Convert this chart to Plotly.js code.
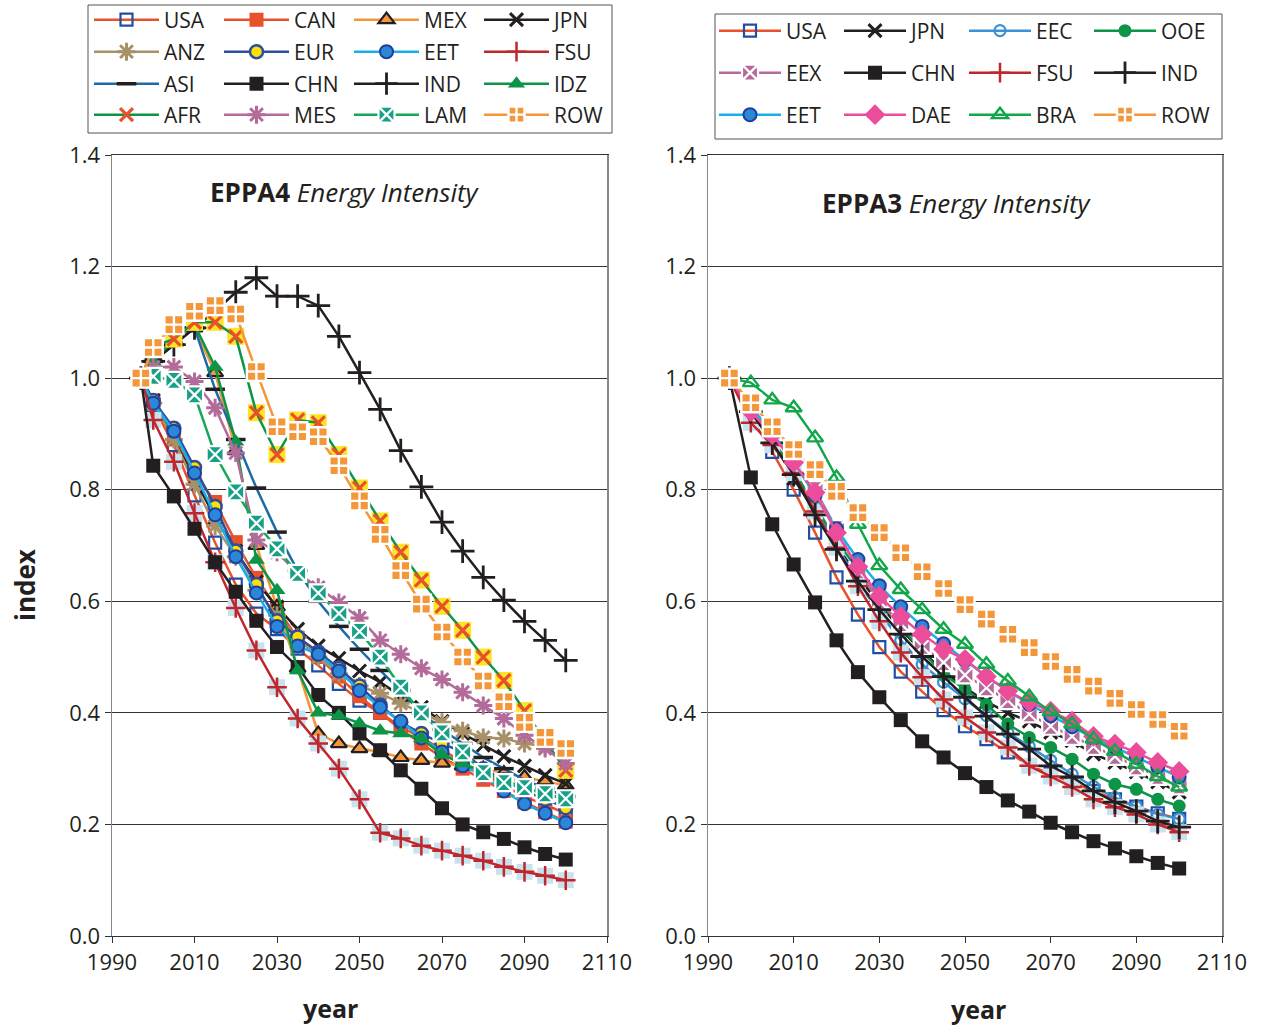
<!DOCTYPE html>
<html><head><meta charset="utf-8">
<script src="https://cdn.plot.ly/plotly-3.0.1.min.js"></script>
<style>html,body{margin:0;padding:0;background:#fff}#chart{width:1261px;height:1029px}</style>
</head><body><div id="chart"></div>
<script>
// ---------- DATA ----------
const years4 = [1997,2000,2005,2010,2015,2020,2025,2030,2035,2040,2045,2050,2055,2060,2065,2070,2075,2080,2085,2090,2095,2100];
const years3 = [1995,2000,2005,2010,2015,2020,2025,2030,2035,2040,2045,2050,2055,2060,2065,2070,2075,2080,2085,2090,2095,2100];
const xTicks = [1990,2010,2030,2050,2070,2090,2110];
const yTicks = [0.0,0.2,0.4,0.6,0.8,1.0,1.2,1.4];

// EPPA4 (left panel)
const e4_USA = [1.0,0.95,0.88,0.79,0.705,0.63,0.578,0.55,0.515,0.485,0.452,0.422,0.40,0.375,0.355,0.335,0.31,0.29,0.27,0.25,0.235,0.22];
const e4_CAN = [1.0,0.96,0.89,0.83,0.778,0.706,0.642,0.588,0.534,0.50,0.465,0.43,0.40,0.37,0.345,0.32,0.30,0.28,0.26,0.24,0.222,0.205];
const e4_MEX = [1.0,1.04,1.07,1.09,1.01,0.87,0.70,0.59,0.48,0.363,0.345,0.336,0.33,0.32,0.315,0.31,0.305,0.30,0.292,0.285,0.278,0.27];
const e4_JPN = [1.0,0.96,0.89,0.82,0.75,0.69,0.635,0.59,0.55,0.52,0.498,0.475,0.455,0.43,0.41,0.385,0.363,0.342,0.322,0.305,0.288,0.273];
const e4_ANZ = [1.0,0.955,0.89,0.81,0.735,0.68,0.62,0.575,0.535,0.50,0.47,0.448,0.435,0.417,0.40,0.383,0.368,0.356,0.354,0.345,0.34,0.335];
const e4_EUR = [1.0,0.96,0.91,0.84,0.77,0.69,0.63,0.565,0.536,0.509,0.48,0.448,0.414,0.383,0.363,0.345,0.33,0.30,0.28,0.26,0.245,0.23];
const e4_EET = [1.0,0.955,0.905,0.83,0.755,0.68,0.615,0.555,0.52,0.505,0.475,0.44,0.41,0.385,0.355,0.33,0.305,0.288,0.26,0.237,0.22,0.203];
const e4_FSU = [1.0,0.925,0.85,0.758,0.67,0.588,0.512,0.446,0.39,0.345,0.30,0.245,0.185,0.175,0.162,0.153,0.144,0.135,0.124,0.115,0.108,0.10];
const e4_ASI = [1.0,1.03,1.06,1.09,0.98,0.89,0.803,0.724,0.655,0.60,0.555,0.514,0.476,0.44,0.40,0.37,0.345,0.32,0.30,0.28,0.265,0.25];
const e4_CHN = [1.0,0.843,0.788,0.73,0.67,0.617,0.565,0.518,0.482,0.432,0.40,0.363,0.333,0.297,0.264,0.229,0.20,0.186,0.174,0.159,0.147,0.137];
const e4_IND = [1.0,1.03,1.06,1.09,1.12,1.154,1.18,1.147,1.147,1.13,1.075,1.01,0.944,0.87,0.805,0.742,0.69,0.643,0.602,0.564,0.53,0.494];
const e4_IDZ = [1.0,1.03,1.07,1.096,1.02,0.886,0.674,0.62,0.476,0.40,0.395,0.381,0.368,0.363,0.354,0.325,0.309,0.295,0.28,0.265,0.255,0.245];
const e4_AFR = [1.0,1.057,1.07,1.10,1.10,1.075,0.938,0.863,0.925,0.92,0.863,0.803,0.744,0.688,0.638,0.591,0.548,0.50,0.458,0.404,0.35,0.297];
const e4_MES = [1.0,1.02,1.02,0.994,0.947,0.866,0.71,0.688,0.65,0.625,0.598,0.57,0.53,0.505,0.48,0.46,0.437,0.413,0.39,0.36,0.336,0.309];
const e4_LAM = [1.0,1.003,0.996,0.97,0.863,0.796,0.74,0.694,0.65,0.615,0.578,0.546,0.50,0.446,0.40,0.364,0.33,0.293,0.275,0.266,0.255,0.246];
const e4_ROW = [1.0,1.055,1.096,1.12,1.13,1.115,1.012,0.913,0.904,0.895,0.843,0.78,0.72,0.655,0.595,0.545,0.50,0.457,0.42,0.383,0.356,0.336];

// EPPA3 (right panel)
const e3_USA = [1.0,0.93,0.868,0.80,0.723,0.643,0.576,0.518,0.474,0.438,0.405,0.376,0.353,0.329,0.306,0.29,0.275,0.26,0.245,0.232,0.22,0.21];
const e3_JPN = [1.0,0.95,0.89,0.82,0.76,0.70,0.645,0.595,0.55,0.51,0.475,0.445,0.42,0.40,0.385,0.365,0.35,0.326,0.311,0.294,0.276,0.258];
const e3_EEC = [1.0,0.945,0.89,0.83,0.765,0.70,0.635,0.58,0.53,0.487,0.455,0.425,0.395,0.365,0.34,0.315,0.29,0.268,0.248,0.232,0.218,0.21];
const e3_OOE = [1.0,0.94,0.89,0.835,0.77,0.71,0.655,0.60,0.555,0.51,0.469,0.442,0.415,0.38,0.356,0.338,0.317,0.29,0.272,0.263,0.245,0.233];
const e3_EEX = [1.0,0.95,0.90,0.85,0.80,0.73,0.655,0.60,0.56,0.519,0.49,0.468,0.445,0.422,0.398,0.376,0.358,0.34,0.322,0.303,0.286,0.269];
const e3_CHN = [1.0,0.822,0.738,0.666,0.598,0.53,0.473,0.428,0.387,0.349,0.32,0.292,0.267,0.243,0.223,0.203,0.186,0.17,0.157,0.143,0.131,0.121];
const e3_FSU = [1.0,0.92,0.88,0.83,0.761,0.696,0.627,0.564,0.508,0.464,0.424,0.392,0.365,0.338,0.305,0.286,0.267,0.245,0.231,0.218,0.20,0.186];
const e3_IND = [1.0,0.94,0.884,0.827,0.755,0.693,0.636,0.585,0.541,0.501,0.465,0.428,0.394,0.362,0.335,0.305,0.285,0.26,0.24,0.224,0.206,0.195];
const e3_EET = [1.0,0.95,0.90,0.85,0.79,0.73,0.675,0.628,0.59,0.555,0.524,0.494,0.465,0.44,0.415,0.395,0.375,0.355,0.338,0.32,0.303,0.285];
const e3_DAE = [1.0,0.94,0.899,0.849,0.795,0.723,0.662,0.609,0.573,0.541,0.514,0.496,0.465,0.439,0.419,0.403,0.385,0.358,0.344,0.329,0.311,0.295];
const e3_BRA = [1.0,0.992,0.961,0.947,0.893,0.822,0.738,0.664,0.621,0.585,0.55,0.523,0.487,0.457,0.429,0.402,0.38,0.353,0.331,0.308,0.286,0.267];
const e3_ROW = [1.0,0.956,0.913,0.872,0.836,0.797,0.759,0.723,0.687,0.653,0.623,0.594,0.568,0.541,0.517,0.492,0.469,0.448,0.426,0.406,0.388,0.367];

const regions4 = ['USA','CAN','MEX','JPN','ANZ','EUR','EET','FSU','ASI','CHN','IND','IDZ','AFR','MES','LAM','ROW'];
const series4 = [e4_USA,e4_CAN,e4_MEX,e4_JPN,e4_ANZ,e4_EUR,e4_EET,e4_FSU,e4_ASI,e4_CHN,e4_IND,e4_IDZ,e4_AFR,e4_MES,e4_LAM,e4_ROW];
const regions3 = ['USA','JPN','EEC','OOE','EEX','CHN','FSU','IND','EET','DAE','BRA','ROW'];
const series3 = [e3_USA,e3_JPN,e3_EEC,e3_OOE,e3_EEX,e3_CHN,e3_FSU,e3_IND,e3_EET,e3_DAE,e3_BRA,e3_ROW];

// ---------- STYLES ----------
const RED='#e8512a', BLUE='#1f4fa3', ORANGE='#f3973a', BLACK='#231f20', TAN='#a89068',
      EURB='#2d4da0', YEL='#ffe000', CYAN='#18b0e8', EETF='#2b88d8', EETB='#223f99',
      FSUR='#c0272d', LBLUE='#c8e2ee', ASIB='#1c6aa6', GREEN='#0d9447', AFRY='#fde428',
      MAUVE='#b36b99', LAMG='#16a85a', TEAL='#16a085', EECB='#3c91d4', PINK='#ec4d9b', BRAG='#12a74a', WHITE='#ffffff';

// bg: optional square drawn beneath the marker (composite markers), bgs: its size
const sty = {
  USA:{lc:RED, sym:'square-open', sz:12, mc:BLUE, mlc:BLUE, mlw:2.2},
  CAN:{lc:RED, sym:'square', sz:14, mc:RED, mlc:RED, mlw:0},
  MEX:{lc:ORANGE, sym:'triangle-up', sz:14, mc:ORANGE, mlc:BLACK, mlw:2.2},
  JPN:{lc:BLACK, sym:'x-thin', sz:13, mc:BLACK, mlc:BLACK, mlw:3},
  ANZ:{lc:TAN, sym:'asterisk-open', sz:15, mc:TAN, mlc:TAN, mlw:3},
  EUR:{lc:EURB, sym:'circle', sz:13, mc:YEL, mlc:EURB, mlw:2.5},
  EET:{lc:CYAN, sym:'circle', sz:13, mc:EETF, mlc:EETB, mlw:2},
  FSU:{lc:FSUR, sym:'cross-thin', sz:14, mc:FSUR, mlc:FSUR, mlw:2.5, bg:LBLUE, bgs:16},
  ASI:{lc:ASIB, sym:'line-ew', sz:14, mc:BLACK, mlc:BLACK, mlw:3.5},
  CHN:{lc:BLACK, sym:'square', sz:14, mc:BLACK, mlc:BLACK, mlw:0},
  IND:{lc:BLACK, sym:'cross-thin', sz:17, mc:BLACK, mlc:BLACK, mlw:2.8},
  IDZ:{lc:GREEN, sym:'triangle-up', sz:15, mc:GREEN, mlc:GREEN, mlw:0},
  AFR:{lc:GREEN, sym:'x-thin', sz:13, mc:RED, mlc:RED, mlw:3.2, bg:AFRY, bgs:17},
  MES:{lc:MAUVE, sym:'asterisk-open', sz:15, mc:MAUVE, mlc:MAUVE, mlw:3},
  LAM:{lc:LAMG, sym:'square-x', sz:17, mc:TEAL, mlc:WHITE, mlw:2.2},
  ROW:{lc:ORANGE, sym:'square-cross', sz:19, mc:ORANGE, mlc:WHITE, mlw:2.4},
  EEC:{lc:EECB, sym:'circle-open', sz:11, mc:EECB, mlc:EECB, mlw:2.2},
  OOE:{lc:GREEN, sym:'circle', sz:13, mc:GREEN, mlc:GREEN, mlw:0},
  EEX:{lc:MAUVE, sym:'square-x', sz:17, mc:MAUVE, mlc:WHITE, mlw:2.2},
  DAE:{lc:PINK, sym:'diamond', sz:16, mc:PINK, mlc:PINK, mlw:0},
  BRA:{lc:BRAG, sym:'triangle-up-open', sz:14, mc:BRAG, mlc:BRAG, mlw:2.4}
};

const legendsL = ['legend','legend2','legend3','legend4'];
const legendsR = ['legend5','legend6','legend7'];

function addSeries(arr, name, x, y, st, xa, ya, lg){
  if(st.bg){
    arr.push({type:'scatter', mode:'markers', x:x, y:y, xaxis:xa, yaxis:ya, showlegend:false, hoverinfo:'skip',
      marker:{symbol:'square', size:st.bgs, color:st.bg, line:{width:0}}});
  }
  arr.push({type:'scatter', mode:'lines+markers', name:name, x:x, y:y, xaxis:xa, yaxis:ya, legend:lg,
    line:{color:st.lc, width:2.5},
    marker:{symbol:st.sym, size:st.sz, color:st.mc, line:{color:st.mlc, width:st.mlw}},
    hoverinfo:'name+x+y'});
}
const traces = [];
regions4.forEach((r,i)=>addSeries(traces, r, years4, series4[i], sty[r], 'x', 'y', legendsL[Math.floor(i/4)]));
regions3.forEach((r,i)=>addSeries(traces, r, years3, series3[i], sty[r], 'x2', 'y2', legendsR[Math.floor(i/4)]));

// ---------- LAYOUT ----------
const FONT = 'Open Sans, Noto Sans, sans-serif';
const PL=112, PW=1110, PB=936, PH=781;
const px = v => (v-PL)/PW, py = v => (PB-v)/PH;

function lgd(xp, yp, ew, iw){
  return {orientation:'h', x:px(xp), y:py(yp), xanchor:'left', yanchor:'middle',
    bgcolor:'rgba(0,0,0,0)', borderwidth:0, font:{family:FONT, size:21, color:BLACK},
    entrywidth:ew, entrywidthmode:'pixels', itemwidth:iw, traceorder:'normal'};
}
function xax(dom, anchor){
  return {domain:dom, anchor:anchor, range:[1990,2110], tickvals:xTicks, ticks:'outside', ticklen:6, tickcolor:'#333',
    showline:true, linecolor:'#333', linewidth:1.2, mirror:true, showgrid:false, zeroline:false,
    tickfont:{family:FONT, size:22, color:BLACK}};
}
function yax(anchor){
  return {domain:[0,1], anchor:anchor, range:[0,1.4], tickvals:yTicks, tickformat:'.1f', ticks:'outside', ticklen:6, tickcolor:'#333',
    showline:true, linecolor:'#888', linewidth:1.5, mirror:true, showgrid:true, gridcolor:'#333', gridwidth:1, zeroline:false,
    tickfont:{family:FONT, size:22, color:BLACK}};
}
function ann(x, y, text, extra){
  return Object.assign({xref:'paper', yref:'paper', x:px(x), y:py(y), xanchor:'center', yanchor:'middle', text:text,
    showarrow:false, font:{family:FONT, size:26, color:BLACK}}, extra||{});
}

const layout = {
  width:1261, height:1029, showlegend:true,
  margin:{l:PL, r:1261-PL-PW, t:PB-PH, b:1029-PB, pad:0, autoexpand:false},
  paper_bgcolor:'#ffffff', plot_bgcolor:'#ffffff',
  font:{family:FONT, color:BLACK},
  xaxis: xax([0, px(607)], 'y'),
  yaxis: yax('x'),
  xaxis2: xax([px(708), 1], 'y2'),
  yaxis2: yax('x2'),
  legend: lgd(89, 20, 50, 65), legend2: lgd(89, 52, 50, 65), legend3: lgd(89, 84, 50, 65), legend4: lgd(89, 115, 50, 65),
  legend5: lgd(714, 31, 48, 62), legend6: lgd(714, 73, 48, 62), legend7: lgd(714, 115, 48, 62),
  shapes:[
    {type:'rect', xref:'paper', yref:'paper', x0:px(88), x1:px(612), y0:py(133), y1:py(5), line:{color:'#555', width:1}},
    {type:'rect', xref:'paper', yref:'paper', x0:px(715), x1:px(1222), y0:py(139), y1:py(14), line:{color:'#555', width:1}}
  ],
  annotations:[
    ann(345, 192, '<b>EPPA4</b> <i>Energy Intensity</i>'),
    ann(957, 203, '<b>EPPA3</b> <i>Energy Intensity</i>'),
    ann(25, 585, '<b>index</b>', {textangle:-90}),
    ann(330, 1008, '<b>year</b>', {font:{family:FONT, size:25, color:BLACK}}),
    ann(978, 1009, '<b>year</b>', {font:{family:FONT, size:25, color:BLACK}})
  ]
};

Plotly.newPlot('chart', traces, layout, {staticPlot:true, displayModeBar:false});
</script>
</body></html>
